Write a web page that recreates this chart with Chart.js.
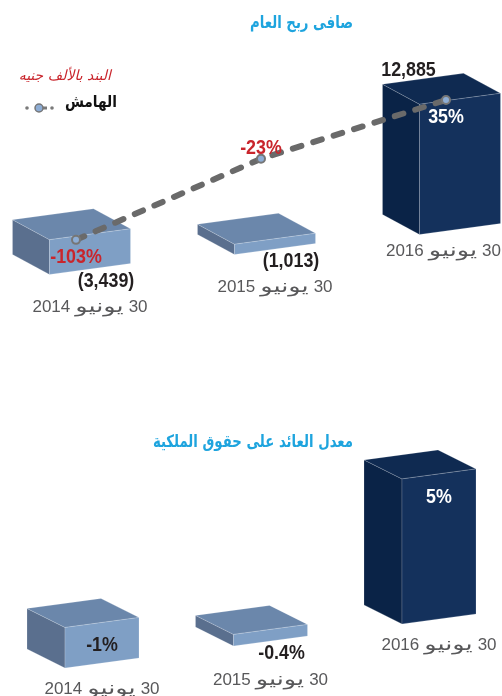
<!DOCTYPE html>
<html lang="ar">
<head>
<meta charset="utf-8">
<title>صافى ربح العام</title>
<script src="https://cdn.jsdelivr.net/npm/chart.js@4.4.1/dist/chart.umd.min.js"></script>
<style>
  body { margin: 0; background: #fff; }
  canvas { position: absolute; left: 0; }
  #profitChart { top: 0; }
  #roeChart { top: 340px; }
</style>
</head>
<body>
<canvas id="profitChart" width="502" height="340"></canvas>
<canvas id="roeChart" width="502" height="356"></canvas>
<script>
const periods = ["30 يونيو 2014", "30 يونيو 2015", "30 يونيو 2016"];
const netProfit = [-3439, -1013, 12885];      // thousand EGP
const profitMargin = [-103, -23, 35];         // %
const roe = [-1.4, -0.4, 5.0];                // %
const roeLabels = ["-1%", "-0.4%", "5%"];

const NAVY = { front: "#14315c", side: "#0a2347", top: "#0f2a51" };
const STEEL = { front: "#7f9fc5", side: "#5a6f8e", top: "#6b87ab" };
const DARK = "#231f20";
const RED = "#c9252c";
const GREY = "#58585a";
const CYAN = "#1ea4de";
const NUM_FONT = "bold 21px 'Liberation Sans', sans-serif";
const NUM_SQUEEZE = 0.85;
const DIGIT_FONT = "17px 'Liberation Sans', sans-serif";
const ARABIC_FONT = "18px 'DejaVu Sans', sans-serif";
const ARABIC_STRETCH = 1.42;

function fmtThousands(v) {
    const s = Math.abs(v).toLocaleString("en-US");
    return v < 0 ? "(" + s + ")" : s;
}

function text(ctx, str, x, y, font, color, align, rtl, sx) {
    ctx.save();
    ctx.font = font;
    ctx.fillStyle = color;
    ctx.textAlign = align || "center";
    ctx.textBaseline = "middle";
    ctx.direction = rtl ? "rtl" : "ltr";
    ctx.translate(x, y);
    ctx.scale(sx || 1, 1);
    ctx.fillText(str, 0, 0);
    ctx.restore();
}

function measure(ctx, str, font, sx) {
    ctx.save();
    ctx.font = font;
    const w = ctx.measureText(str).width * (sx || 1);
    ctx.restore();
    return w;
}

// "30 يونيو 2016" laid out right to left: day, month, year
function drawPeriod(ctx, str, cx, y, maxRight) {
    const parts = str.split(" ");
    const styles = parts.map(p => /\d/.test(p) ? [DIGIT_FONT, 1] : [ARABIC_FONT, ARABIC_STRETCH]);
    const gap = 5;
    const widths = parts.map((p, i) => measure(ctx, p, styles[i][0], styles[i][1]));
    const total = widths.reduce((a, b) => a + b, 0) + gap * (parts.length - 1);
    let right = Math.min(cx + total / 2, maxRight);
    parts.forEach((p, i) => {
        text(ctx, p, right - widths[i] / 2, y, styles[i][0], GREY, "center", i === 1, styles[i][1]);
        right -= widths[i] + gap;
    });
}

function poly(ctx, pts, fill) {
    ctx.beginPath();
    ctx.moveTo(pts[0][0], pts[0][1]);
    for (let i = 1; i < pts.length; i++) ctx.lineTo(pts[i][0], pts[i][1]);
    ctx.closePath();
    ctx.fillStyle = fill;
    ctx.fill();
    ctx.strokeStyle = "rgba(255,255,255,0.22)";
    ctx.lineWidth = 0.8;
    ctx.stroke();
}

// front face of a box, tilted so the row of boxes looks drawn in perspective
function boxGeom(chart, cfg, bar) {
    const a = chart.chartArea;
    const x0 = (a.left + a.right) / 2;
    const cx = bar.x, w = cfg.faceWidth;
    const lift = x => -cfg.baseTilt * (cx - x0) - cfg.faceTilt * (x - cx);
    const xl = cx - w / 2, xr = cx + w / 2;
    return {
        cx,
        lt: [xl, bar.y + lift(xl)], rt: [xr, bar.y + lift(xr)],
        rb: [xr, bar.base + lift(xr)], lb: [xl, bar.base + lift(xl)],
        top: bar.y + lift(cx), bottom: bar.base + lift(cx)
    };
}

function makeBoxPlugin(cfg) {
    const d = cfg.depth;
    const back = p => [p[0] + d[0], p[1] + d[1]];
    return {
        id: "box3d",
        beforeDatasetsDraw(chart) {
            const ctx = chart.ctx;
            chart.getDatasetMeta(0).data.forEach((bar, i) => {
                const g = boxGeom(chart, cfg, bar);
                const c = cfg.values[i] >= 0 ? NAVY : STEEL;
                ctx.save();
                poly(ctx, [g.lt, g.lb, back(g.lb), back(g.lt)], c.side);
                poly(ctx, [g.lt, g.rt, back(g.rt), back(g.lt)], c.top);
                poly(ctx, [g.lt, g.rt, g.rb, g.lb], c.front);
                ctx.restore();
            });
        },
        beforeDatasetDraw(chart, args) {
            if (args.meta.type === "line") {
                chart.ctx.save();
                chart.ctx.translate(cfg.lineShift || 0, 0);
            }
        },
        afterDatasetDraw(chart, args) {
            if (args.meta.type === "line") chart.ctx.restore();
        },
        afterDraw(chart) {
            const ctx = chart.ctx;
            const bars = chart.getDatasetMeta(0).data;
            bars.forEach((bar, i) => {
                const g = boxGeom(chart, cfg, bar);
                const v = cfg.values[i];
                const lab = cfg.valueLabel(g, v, i);
                text(ctx, lab.text, lab.x, lab.y, NUM_FONT, lab.color, "center", false, NUM_SQUEEZE);
                drawPeriod(ctx, periods[i], g.cx, g.bottom + (lab.below ? cfg.dateGapBelow : cfg.dateGap), chart.width - 1);
            });
            if (cfg.line) {
                const pts = chart.getDatasetMeta(1).data;
                pts.forEach((p, i) => {
                    const g = boxGeom(chart, cfg, bars[i]);
                    const x = p.x + cfg.lineShift;
                    const above = p.y < g.top - 20;
                    text(ctx, cfg.line[i] + "%", x, above ? p.y - 11 : p.y + 17, NUM_FONT,
                        cfg.values[i] >= 0 ? "#ffffff" : RED, "center", false, NUM_SQUEEZE);
                });
            }
            text(ctx, cfg.title, 353, cfg.titleY, "bold 17px 'DejaVu Sans', sans-serif", CYAN, "right", true, 0.78);
            if (cfg.legend) {
                text(ctx, "البند بالألف جنيه", 111, 76, "italic 14px 'DejaVu Sans', sans-serif", RED, "right", true);
                text(ctx, "الهامش", 117, 103, "bold 16px 'DejaVu Sans', sans-serif", "#111", "right", true, 0.86);
                ctx.save();
                ctx.fillStyle = "#7a7a7a";
                [27, 52].forEach(x => { ctx.beginPath(); ctx.arc(x, 108, 1.8, 0, Math.PI * 2); ctx.fill(); });
                ctx.fillRect(43, 106.5, 4, 3);
                ctx.beginPath();
                ctx.arc(39, 108, 4, 0, Math.PI * 2);
                ctx.fillStyle = "#8dadd5";
                ctx.fill();
                ctx.strokeStyle = "#767676";
                ctx.lineWidth = 1.5;
                ctx.stroke();
                ctx.restore();
            }
        }
    };
}

const profitCfg = {
    values: netProfit, line: profitMargin, lineShift: -14,
    faceWidth: 81, baseTilt: 0.108, faceTilt: 0.135, depth: [-37, -20],
    title: "صافى ربح العام", titleY: 24, legend: true,
    dateGap: 22, dateGapBelow: 38,
    valueLabel(g, v) {
        if (v >= 0) return { text: fmtThousands(v), x: g.lt[0] - 11, y: g.lt[1] - 34, color: DARK, below: false };
        return { text: fmtThousands(v), x: g.cx + 16, y: g.bottom + 12, color: DARK, below: true };
    }
};

const roeCfg = {
    values: roe,
    faceWidth: 74, baseTilt: 0.131, faceTilt: 0.135, depth: [-38, -19],
    title: "معدل العائد على حقوق الملكية", titleY: 103, legend: false,
    dateGap: 26, dateGapBelow: 39,
    valueLabel(g, v, i) {
        if (g.bottom - g.top > 20)
            return { text: roeLabels[i], x: g.cx, y: g.top + 23, color: v >= 0 ? "#ffffff" : DARK, below: false };
        return { text: roeLabels[i], x: g.cx + 11, y: g.bottom + 12, color: DARK, below: true };
    }
};

const hiddenBar = { backgroundColor: "rgba(0,0,0,0)", borderWidth: 0 };

new Chart(document.getElementById("profitChart"), {
    data: {
        labels: periods,
        datasets: [
            { type: "bar", data: netProfit.map(Math.abs), barThickness: 81, yAxisID: "y", ...hiddenBar },
            {
                type: "line", data: profitMargin, yAxisID: "y1",
                borderColor: "#6a6a6a", borderWidth: 6, borderDash: [9, 12.4], borderCapStyle: "round",
                pointRadius: 4, pointBackgroundColor: "#8dadd5", pointBorderColor: "#767676", pointBorderWidth: 2,
                tension: 0, clip: false
            }
        ]
    },
    options: {
        responsive: false,
        animation: false,
        devicePixelRatio: 1,
        layout: { padding: { left: 90, right: 42, top: 60, bottom: 91 } },
        scales: {
            x: { display: false, offset: false },
            y: { display: false, min: 0, max: 18700 },
            y1: { display: false, min: -112, max: 74.4 }
        },
        plugins: { legend: { display: false }, tooltip: { enabled: false } }
    },
    plugins: [makeBoxPlugin(profitCfg)]
});

new Chart(document.getElementById("roeChart"), {
    data: {
        labels: periods,
        datasets: [
            { type: "bar", data: roe.map(Math.abs), barThickness: 74, ...hiddenBar }
        ]
    },
    options: {
        responsive: false,
        animation: false,
        devicePixelRatio: 1,
        layout: { padding: { left: 102, right: 63, top: 100, bottom: 55 } },
        scales: {
            x: { display: false, offset: false },
            y: { display: false, min: 0, max: 6.93 }
        },
        plugins: { legend: { display: false }, tooltip: { enabled: false } }
    },
    plugins: [makeBoxPlugin(roeCfg)]
});
</script>
</body>
</html>
